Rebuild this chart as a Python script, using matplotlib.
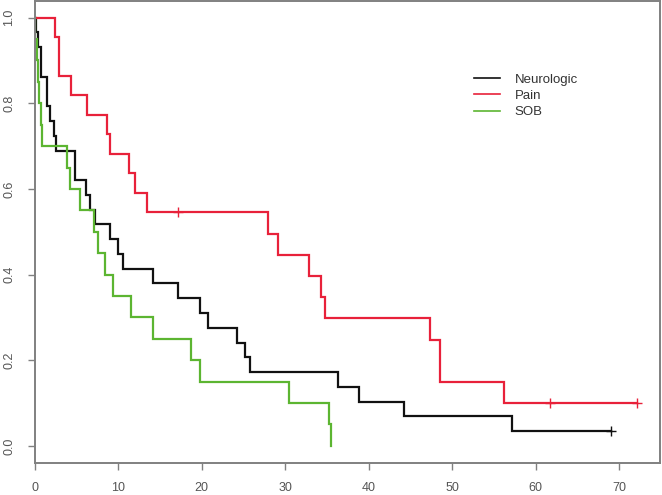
import numpy as np
import matplotlib
matplotlib.use("Agg")
import matplotlib.pyplot as plt

plt.rcParams['font.family'] = ['Liberation Sans', 'DejaVu Sans']

# event / censoring times per group (months)
groups = ["Neurologic", "Pain", "SOB"]
neuroEvents = [0.2, 0.4, 0.8, 0.8, 1.5, 1.5, 1.9, 2.3, 2.6, 4.8, 4.8, 6.2, 6.7, 7.2,
               9.0, 10.0, 10.6, 14.2, 17.2, 19.8, 20.8, 24.3, 25.2, 25.8, 36.4, 38.8,
               44.2, 57.2]
neuroCensored = [69.0]
painEvents = [2.4, 2.9, 2.9, 4.4, 6.3, 8.7, 9.1, 11.3, 12.0, 13.5, 28.0, 29.1, 32.9,
              34.3, 34.8, 47.3, 48.6, 48.6, 56.2]
painCensored = [17.2, 61.7, 72.1]
sobEvents = [0.1, 0.3, 0.4, 0.5, 0.8, 0.9, 3.9, 4.2, 5.4, 7.1, 7.6, 8.4, 9.4, 11.6,
             14.2, 18.7, 19.8, 30.5, 35.3, 35.5]
sobCensored = []
groupColors = ["#111111", "#e8213a", "#5cb531"]

xTicks = [0, 10, 20, 30, 40, 50, 60, 70]
yTicks = [0.0, 0.2, 0.4, 0.6, 0.8, 1.0]


def kaplanMeier(events, censored):
    times = sorted(set(events) | set(censored))
    atRisk = len(events) + len(censored)
    surv = 1.0
    xs, ys = [0.0], [1.0]
    censorX, censorY = [], []
    for t in times:
        d = events.count(t)
        c = censored.count(t)
        if d > 0:
            surv *= (atRisk - d) / atRisk
        xs.append(t)
        ys.append(surv)
        if c > 0:
            censorX.append(t)
            censorY.append(surv)
        atRisk -= d + c
    return xs, ys, censorX, censorY


fig = plt.figure(figsize=(6.62, 4.95), dpi=100)
ax = fig.add_axes([34.5 / 662, 32 / 495, (660 - 34.5) / 662, (463 - 0.5) / 495])

allData = [(neuroEvents, neuroCensored), (painEvents, painCensored), (sobEvents, sobCensored)]
for name, (ev, ce), col in zip(groups, allData, groupColors):
    xs, ys, cx, cy = kaplanMeier(ev, ce)
    ax.plot(xs, ys, drawstyle="steps-post", color=col, lw=1.6, label=name,
            solid_joinstyle="miter")
    ax.plot(cx, cy, linestyle="none", marker="+", markersize=7, mew=1.0, color=col)

ax.set_xlim(0, 74.9)
ax.set_ylim(-0.04, 1.04)
ax.set_xticks(xTicks)
ax.set_yticks(yTicks)
ax.set_yticklabels(["%.1f" % v for v in yTicks], rotation=90, va="center")

axisGray = "#808080"
for sp in ax.spines.values():
    sp.set_color(axisGray)
    sp.set_linewidth(1.4)
ax.tick_params(axis="both", colors=axisGray, labelcolor="#555555", labelsize=9,
               length=5, width=1.0)
ax.tick_params(axis="x", pad=9)
ax.tick_params(axis="y", pad=9)

leg = ax.legend(loc="upper left", bbox_to_anchor=(467 / 662, 1 - 67 / 495),
                bbox_transform=fig.transFigure, frameon=False, fontsize=9.5,
                handlelength=2.0, handletextpad=1.1, labelspacing=0.3, borderpad=0)
for line in leg.get_lines():
    line.set_linewidth(1.2)
for txt in leg.get_texts():
    txt.set_color("#333333")

fig.savefig("out.png", dpi=100)
